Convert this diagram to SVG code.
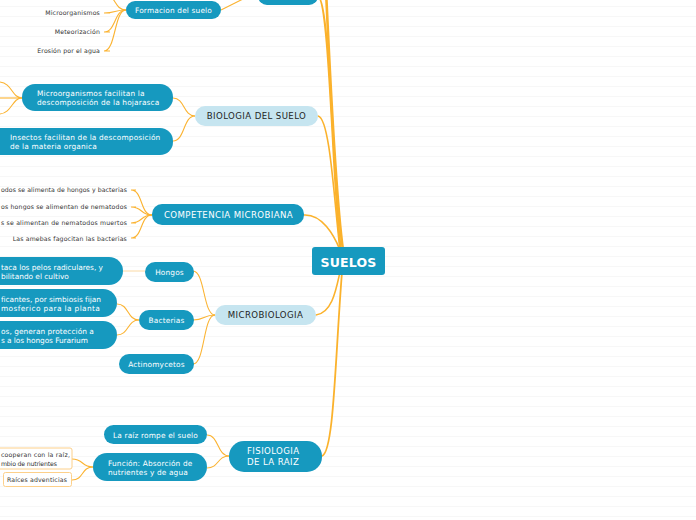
<svg xmlns="http://www.w3.org/2000/svg" width="696" height="520" viewBox="0 0 696 520">
<defs>
<pattern id="rule" x="0" y="0" width="10" height="10" patternUnits="userSpaceOnUse">
<rect x="0" y="6" width="10" height="1" fill="#f7f7f7"/>
</pattern>
</defs>
<style>
.dark{fill:#1699bf}
.light{fill:#c6e5f0}
.wt{fill:#ffffff;font-family:"DejaVu Sans",Verdana,sans-serif;font-size:7.4px;letter-spacing:0.15px}
.cap{font-size:8.6px;letter-spacing:0.4px}
.big{font-size:12.5px;font-weight:bold;letter-spacing:0.2px}
.bt{fill:#1e1e1e;font-family:"DejaVu Sans",Verdana,sans-serif}
.lt{fill:#333333;font-family:"DejaVu Sans",Verdana,sans-serif;font-size:6.2px;letter-spacing:0.15px}
.main{fill:none;stroke:#fbb22c;stroke-linecap:round}
.sub{fill:none;stroke:#fbb331;stroke-width:1.1}
.box{fill:#ffffff;stroke:#fdd08a;stroke-width:1}
</style>
<rect width="696" height="520" fill="#ffffff"/>
<rect width="696" height="520" fill="url(#rule)"/>

<g id="connectors">
<path class="main" stroke-width="2.2" d="M318 -3 C330 -3 333 200 341 250"/>
<path class="main" stroke-width="2.6" d="M326 -10 C331 100 336 200 343 250"/>
<path class="main" stroke-width="1.6" d="M318 116 C330 118 334 200 340 250"/>
<path class="main" stroke-width="1.6" d="M304 215 C322 214 334 235 340 250"/>
<path class="main" stroke-width="1.6" d="M316 315 C332 313 336 290 340 272"/>
<path class="main" stroke-width="1.8" d="M322 456 C334 452 335 360 342 272"/>

<path class="sub" d="M221 10 L245 -2"/>
<path class="sub" d="M126 10 C114 10 116 -6 104 -6"/>
<path class="sub" d="M126 10 C114 10 116 13 104 13 L110 13"/>
<path class="sub" d="M126 10 C114 10 116 32 104 32 L110 32"/>
<path class="sub" d="M126 10 C114 10 116 51 104 51 L110 51"/>

<path class="sub" d="M195 116 C183 116 185 98 173 98"/>
<path class="sub" d="M195 116 C183 116 185 141 173 141"/>
<path class="sub" d="M22 98 C12 98 12 83 0 82"/>
<path class="sub" d="M22 98 L0 98"/>
<path class="sub" d="M22 98 C12 98 12 113 0 114"/>

<path class="sub" d="M152 215 C140 215 143 190 131 190 L136 190"/>
<path class="sub" d="M152 215 C140 215 143 207 131 207 L136 207"/>
<path class="sub" d="M152 215 C140 215 143 223 131 223 L136 223"/>
<path class="sub" d="M152 215 C140 215 143 238 131 238 L136 238"/>

<path class="sub" d="M215 315 C203 315 205 271 193 271"/>
<path class="sub" d="M215 315 C203 315 205 320 193 320"/>
<path class="sub" d="M215 315 C203 315 205 364 193 364"/>
<path fill="none" stroke="#fad9a4" stroke-width="1" d="M123 271 L145 271"/>
<path class="sub" d="M139 320 C127 320 129 304 117 304"/>
<path class="sub" d="M139 320 C127 320 129 335 117 335"/>

<path class="sub" d="M229 456 C217 456 219 435 207 435"/>
<path class="sub" d="M229 456 C217 456 219 468 207 468"/>
<path class="sub" d="M93 467 C81 467 84 459 72 459"/>
<path class="sub" d="M93 467 C81 467 84 480 72 480"/>
</g>

<g id="top-node"><rect class="dark" x="258" y="-30" width="60" height="35" rx="9"/></g>

<g id="formacion">
<rect class="dark" x="126" y="1" width="95" height="18" rx="9"/>
<text class="wt" x="173.5" y="12.5" text-anchor="middle">Formacion del suelo</text>
</g>
<g id="microorganismos"><text class="lt" x="100" y="15" text-anchor="end">Microorganismos</text></g>
<g id="meteorizacion"><text class="lt" x="100" y="34" text-anchor="end">Meteorización</text></g>
<g id="erosion"><text class="lt" x="100" y="53" text-anchor="end">Erosión por el agua</text></g>

<g id="biologia">
<rect class="light" x="195" y="106" width="123" height="20" rx="10"/>
<text class="bt cap" x="256.5" y="119" text-anchor="middle">BIOLOGIA DEL SUELO</text>
</g>
<g id="micro-facilitan">
<rect class="dark" x="22" y="84" width="151" height="27" rx="13"/>
<text class="wt" x="37" y="95.5">Microorganismos facilitan la</text>
<text class="wt" x="37" y="105">descomposición de la hojarasca</text>
</g>
<g id="insectos">
<rect class="dark" x="-20" y="128" width="193" height="27" rx="13"/>
<text class="wt" x="10" y="139.5">Insectos facilitan de la descomposición</text>
<text class="wt" x="10" y="149">de la materia organica</text>
</g>

<g id="competencia">
<rect class="dark" x="152" y="204" width="152" height="21" rx="10"/>
<text class="wt cap" x="228.5" y="218" text-anchor="middle">COMPETENCIA MICROBIANA</text>
</g>
<g id="comp1"><text class="lt" x="1" y="192" textLength="126" lengthAdjust="spacing">odos se alimenta de hongos y bacterias</text></g>
<g id="comp2"><text class="lt" x="1" y="209" textLength="126" lengthAdjust="spacing">os hongos se alimentan de nematodos</text></g>
<g id="comp3"><text class="lt" x="1" y="225" textLength="126" lengthAdjust="spacing">s se alimentan de nematodos muertos</text></g>
<g id="comp4"><text class="lt" x="127" y="241" text-anchor="end">Las amebas fagocitan las bacterias</text></g>

<g id="microbiologia">
<rect class="light" x="215" y="305" width="101" height="20" rx="10"/>
<text class="bt cap" x="265.5" y="318" text-anchor="middle">MICROBIOLOGIA</text>
</g>
<g id="hongos">
<rect class="dark" x="145" y="262" width="49" height="20" rx="10"/>
<text class="wt" x="169.5" y="274.5" text-anchor="middle">Hongos</text>
</g>
<g id="bacterias">
<rect class="dark" x="139" y="310" width="55" height="20" rx="10"/>
<text class="wt" x="166.5" y="322.5" text-anchor="middle">Bacterias</text>
</g>
<g id="actinomycetos">
<rect class="dark" x="119" y="354" width="75" height="20" rx="10"/>
<text class="wt" x="156.5" y="366.5" text-anchor="middle">Actinomycetos</text>
</g>
<g id="hongos-ataca">
<rect class="dark" x="-40" y="257" width="163" height="28" rx="14"/>
<text class="wt" x="1" y="269.5" textLength="102" lengthAdjust="spacing">taca los pelos radiculares, y</text>
<text class="wt" x="1" y="279" textLength="68" lengthAdjust="spacing">bilitando el cultivo</text>
</g>
<g id="bact-fijadoras">
<rect class="dark" x="-40" y="289" width="157" height="28" rx="14"/>
<text class="wt" x="1" y="301.5" textLength="100" lengthAdjust="spacing">ficantes, por simbiosis fijan</text>
<text class="wt" x="1" y="311" textLength="99" lengthAdjust="spacing">mosferico para la planta</text>
</g>
<g id="bact-proteccion">
<rect class="dark" x="-40" y="321" width="157" height="28" rx="14"/>
<text class="wt" x="1" y="333.5" textLength="93" lengthAdjust="spacing">os, generan protección a</text>
<text class="wt" x="1" y="343" textLength="87" lengthAdjust="spacing">s a los hongos Furarium</text>
</g>

<g id="fisiologia">
<rect class="dark" x="229" y="441" width="93" height="31" rx="15"/>
<text class="wt cap" x="247" y="454">FISIOLOGIA</text>
<text class="wt cap" x="247" y="465">DE LA RAIZ</text>
</g>
<g id="raiz-rompe">
<rect class="dark" x="104" y="425" width="103" height="19" rx="9.5"/>
<text class="wt" x="155.5" y="437.5" text-anchor="middle">La raíz rompe el suelo</text>
</g>
<g id="funcion">
<rect class="dark" x="93" y="453" width="114" height="28" rx="14"/>
<text class="wt" x="108" y="465.5">Función: Absorción de</text>
<text class="wt" x="108" y="475">nutrientes y de agua</text>
</g>
<g id="cooperan">
<rect class="box" x="-20" y="448" width="92" height="21" rx="2"/>
<text class="lt" x="1" y="456.5" textLength="69" lengthAdjust="spacing">cooperan con la raíz,</text>
<text class="lt" x="1" y="465.5" textLength="56" lengthAdjust="spacing">mbio de nutrientes</text>
</g>
<g id="adventicias">
<rect class="box" x="3.5" y="472.5" width="68" height="14" rx="2"/>
<text class="lt" x="37" y="482" text-anchor="middle">Raíces adventicias</text>
</g>

<g id="suelos">
<rect class="dark" x="312" y="247" width="73" height="28" rx="3"/>
<text class="wt big" x="348.5" y="266.5" text-anchor="middle">SUELOS</text>
</g>
</svg>
